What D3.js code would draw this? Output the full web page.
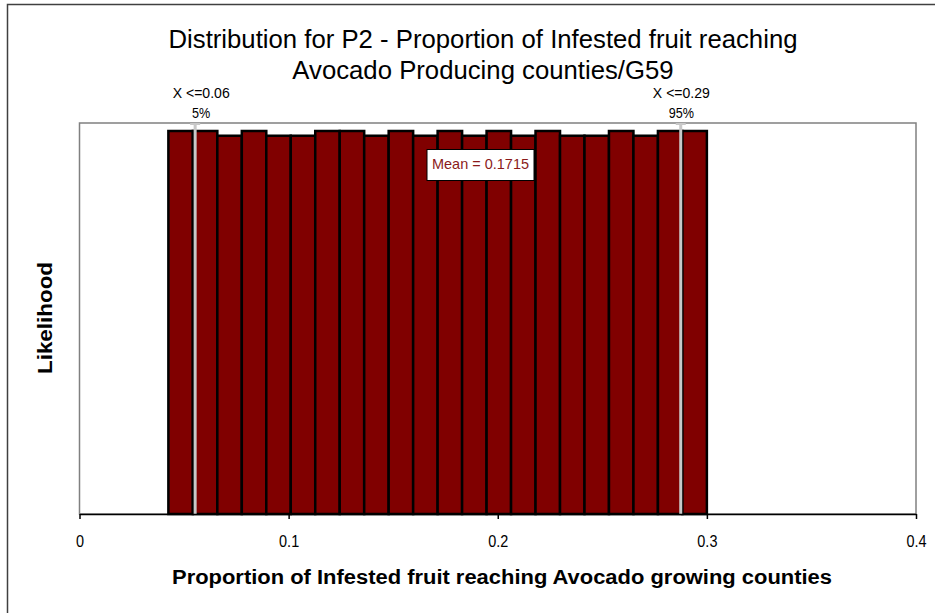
<!DOCTYPE html>
<html><head><meta charset="utf-8">
<script src="https://cdn.jsdelivr.net/npm/d3@7/dist/d3.min.js"></script>
<style>body{margin:0;background:#fff}svg{display:block;font-family:Arial,"Liberation Sans",sans-serif}</style>
</head><body><svg id="c" width="935" height="613"></svg>
<script>
// Data
const binMin = 0.0425, binMax = 0.3;
const likelihoods = [0.0460,0.0460,0.04543,0.0460,0.04543,0.04543,0.0460,0.0460,0.04543,0.0460,0.04543,
                     0.0460,0.04543,0.0460,0.04543,0.0460,0.04543,0.04543,0.0460,0.04543,0.0460,0.0460];
const xTicks = [0,0.1,0.2,0.3,0.4];
const markers = [{x:0.0553,label:"X <=0.06",pct:"5%",lx:0.0582},{x:0.2875,label:"X <=0.29",pct:"95%",lx:0.2878}];
const meanValue = 0.1715;
const titleLines = ["Distribution for P2 - Proportion of Infested fruit reaching","Avocado Producing counties/G59"];
const xTitle = "Proportion of Infested fruit reaching Avocado growing counties";
const yTitle = "Likelihood";

const svg = d3.select("#c");
const L=79.5, R=916, T=123, B=514;
const x = d3.scaleLinear().domain([0,0.4]).range([L,R]);
const y = d3.scaleLinear().domain([0,0.04696]).range([B,T]);
const bw = (binMax-binMin)/likelihoods.length;
const bins = likelihoods.map((v,i)=>({x0:binMin+i*bw,x1:binMin+(i+1)*bw,v}));

function fit(sel, len){ sel.attr("textLength",len).attr("lengthAdjust","spacingAndGlyphs"); return sel; }
function squeeze(sel, f){ sel.each(function(){ const w=this.getComputedTextLength(); d3.select(this).attr("textLength",w*f).attr("lengthAdjust","spacingAndGlyphs"); }); }

// outer frame
svg.append("rect").attr("x",7.5).attr("y",4.5).attr("width",1000).attr("height",1000)
  .attr("fill","none").attr("stroke","#404040").attr("stroke-width",1.5);

// plot area
svg.append("rect").attr("x",L).attr("y",T).attr("width",R-L).attr("height",B-T)
  .attr("fill","#fff").attr("stroke","#808080").attr("stroke-width",1.5);

// bars
svg.append("g").selectAll("rect").data(bins).join("rect")
  .attr("x",d=>x(d.x0)).attr("width",d=>x(d.x1)-x(d.x0))
  .attr("y",d=>y(d.v)).attr("height",d=>y(0)-y(d.v))
  .attr("fill","#800000").attr("stroke","#000").attr("stroke-width",2.5);

// markers
const mg = svg.append("g");
markers.forEach(m=>{
  mg.append("line").attr("x1",x(m.x)).attr("x2",x(m.x)).attr("y1",T).attr("y2",B)
    .attr("stroke","#c8c8c8").attr("stroke-width",3);
  mg.append("line").attr("x1",x(m.x)-5).attr("x2",x(m.x)+5).attr("y1",T+1).attr("y2",T+1)
    .attr("stroke","#c8c8c8").attr("stroke-width",2);
  fit(mg.append("text").attr("x",x(m.lx)).attr("y",98).attr("text-anchor","middle")
    .attr("font-size",14).text(m.label),57);
  squeeze(mg.append("text").attr("x",x(m.lx)).attr("y",117.5).attr("text-anchor","middle")
    .attr("font-size",14).text(m.pct),0.9);
});

// mean box
const mb = svg.append("g");
mb.append("rect").attr("x",427).attr("y",149.5).attr("width",107).attr("height",31)
  .attr("fill","#fff").attr("stroke","#000").attr("stroke-width",1);
fit(mb.append("text").attr("x",480.5).attr("y",169).attr("text-anchor","middle")
  .attr("font-size",15).attr("fill","#8b1a1a").text("Mean = " + meanValue),97);

// x axis
const ax = svg.append("g").attr("transform",`translate(0,${B})`)
  .call(d3.axisBottom(x).tickValues(xTicks).tickFormat(d=>d===0?"0":d3.format(".1f")(d)).tickSize(5).tickSizeOuter(0));
ax.select(".domain").attr("stroke","#000").attr("stroke-width",1.5);
ax.selectAll(".tick line").attr("stroke","#000").attr("stroke-width",1.5);
ax.selectAll(".tick text").attr("font-size",17).attr("font-family","Arial,'Liberation Sans',sans-serif")
  .attr("fill","#000").attr("y",33).attr("dy",0);
squeeze(ax.selectAll(".tick text"),0.85);

// titles
const tg = svg.append("g");
const tTexts = titleLines.map((t,i)=>tg.append("text").attr("x",483).attr("y",48+i*31)
  .attr("text-anchor","middle").attr("font-size",25).text(t));
const tRatio = 629 / tTexts[0].node().getComputedTextLength();
tTexts.forEach(s=>squeeze(s,tRatio));

fit(svg.append("text").attr("x",502).attr("y",584).attr("text-anchor","middle")
  .attr("font-size",20).attr("font-weight","bold").text(xTitle),660);
fit(svg.append("text").attr("transform","translate(52,318) rotate(-90)").attr("text-anchor","middle")
  .attr("font-size",20).attr("font-weight","bold").text(yTitle),112);
</script></body></html>
